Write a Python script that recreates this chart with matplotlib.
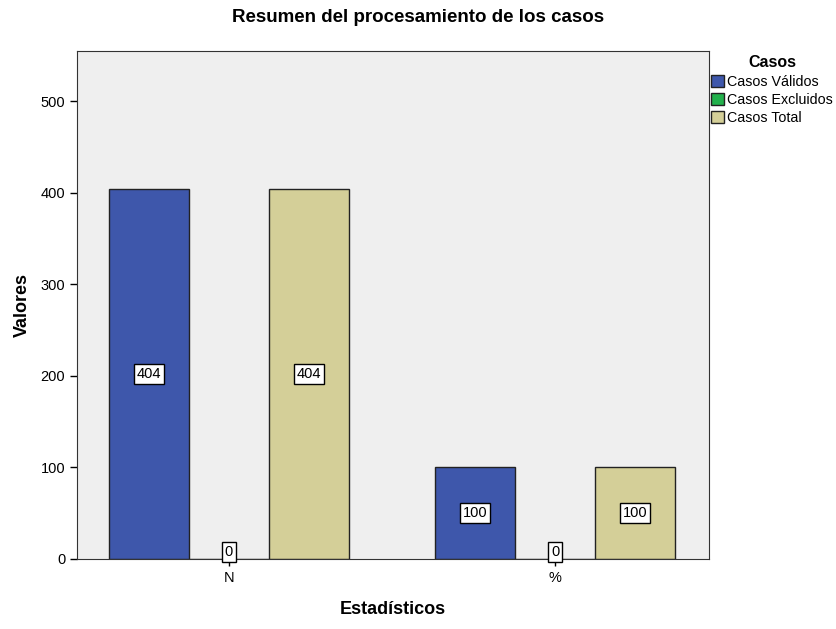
import numpy as np
import matplotlib.pyplot as plt
from matplotlib.patches import Patch

plt.rcParams['font.family'] = ['Liberation Sans', 'DejaVu Sans']

estadisticos = ['N', '%']
series = ['Casos Válidos', 'Casos Excluidos', 'Casos Total']
validos = [404, 100]
excluidos = [0, 0]
total = [404, 100]
colores = ['#3e57ab', '#22b14c', '#d4cf98']

fig = plt.figure(figsize=(8.36, 6.29), dpi=100)
ax = fig.add_axes([0.0921, 0.1113, 0.7559, 0.8076])
ax.set_facecolor('#efefef')

x = np.arange(len(estadisticos))
w = 0.2454
valores = [validos, excluidos, total]
for i, (vals, col) in enumerate(zip(valores, colores)):
    pos = x + (i - 1) * w
    ax.bar(pos, vals, width=w, color=col, edgecolor='#222222', linewidth=1)
    for p, v in zip(pos, vals):
        yy = v / 2 if v > 0 else 0
        va = 'center' if v > 0 else 'bottom'
        ax.text(p, yy, str(v), ha='center', va=va, fontsize=10.5,
                bbox=dict(boxstyle='square,pad=0.2', fc='white', ec='black', lw=1))

ax.set_xlim(-0.466, 1.472)
ax.set_ylim(0, 555)
ax.set_xticks(x)
ax.set_xticklabels(estadisticos)
ax.set_yticks([0, 100, 200, 300, 400, 500])
ax.tick_params(axis='both', labelsize=10.5, length=5, width=1)
for s in ax.spines.values():
    s.set_color('#333333')

ax.set_xlabel('Estadísticos', fontsize=13, fontweight='bold', labelpad=12)
ax.set_ylabel('Valores', fontsize=13, fontweight='bold', labelpad=7)
fig.suptitle('Resumen del procesamiento de los casos', fontsize=13.5, fontweight='bold', y=0.986, x=0.5)

handles = [Patch(facecolor=c, edgecolor='#222222', label=s) for s, c in zip(series, colores)]
leg = fig.legend(handles=handles, title='Casos', loc='upper left', bbox_to_anchor=(0.851, 0.912),
                 frameon=False, fontsize=10.3, handlelength=0.9, handleheight=0.9,
                 handletextpad=0.2, labelspacing=0.3, borderaxespad=0, borderpad=0)
leg.get_title().set_fontweight('bold')
leg.get_title().set_fontsize(11.5)

fig.savefig('out.png', dpi=100)
